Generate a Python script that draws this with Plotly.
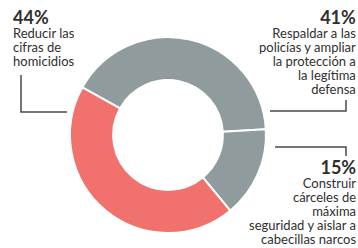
import plotly.graph_objects as go

# Data
categories = ["Respaldar a las policías y ampliar la protección a la legítima defensa",
              "Construir cárceles de máxima seguridad y aislar a cabecillas narcos",
              "Reducir las cifras de homicidios"]
values = [41, 15, 44]
colors = ["#8f9b9d", "#8f9b9d", "#f1716c"]

pct_labels = ["41%", "15%", "44%"]
left_lines = ["Reducir las", "cifras de", "homicidios"]
right_top_lines = ["Respaldar a las", "policías y ampliar", "la protección a", "la legítima", "defensa"]
right_bot_lines = ["Construir", "cárceles de", "máxima", "seguridad y aislar a", "cabecillas narcos"]

W, H = 358, 248

def px(x):
    return x / W

def py(y):
    return 1 - y / H

cx, cy, r = 168, 135, 98

fig = go.Figure(go.Pie(
    labels=categories, values=values, sort=False, direction="clockwise",
    rotation=-61, hole=0.56, textinfo="none", hoverinfo="label+percent",
    marker=dict(colors=colors, line=dict(color="white", width=2)),
    domain=dict(x=[px(cx - r), px(cx + r)], y=[py(cy + r), py(cy - r)]),
    showlegend=False,
))

BASE = 14 / 1.3  # base font size -> 14px line spacing


def block(pct, lines):
    head = f"<span style='font-size:18px'><b>{pct}</b></span>"
    body = [f"<span style='font-size:13px'>{t}</span>" for t in lines]
    return "<br>".join([head] + body)


font = dict(family="Lato", size=BASE, color="#2f2f2f")
ann = [
    dict(x=px(13), y=py(6), text=block(pct_labels[2], left_lines),
         xanchor="left", yanchor="top", align="left"),
    dict(x=px(356), y=py(6), text=block(pct_labels[0], right_top_lines),
         xanchor="right", yanchor="top", align="right"),
    dict(x=px(356), y=py(156), text=block(pct_labels[1], right_bot_lines),
         xanchor="right", yanchor="top", align="right"),
]
for a in ann:
    a.update(xref="paper", yref="paper", showarrow=False, borderpad=0,
             borderwidth=0, font=font)

line_style = dict(color="#4a4a4a", width=1.5)
shapes = [
    dict(type="path", path=f"M {px(21)},{py(75)} L {px(21)},{py(112)} L {px(67)},{py(112)}"),
    dict(type="path", path=f"M {px(270)},{py(111)} L {px(346)},{py(111)} L {px(346)},{py(100)}"),
    dict(type="path", path=f"M {px(275)},{py(147)} L {px(346)},{py(147)} L {px(346)},{py(156)}"),
]
for s in shapes:
    s.update(xref="paper", yref="paper", line=line_style)

fig.update_layout(
    width=W, height=H, margin=dict(l=0, r=0, t=0, b=0),
    paper_bgcolor="white", plot_bgcolor="white",
    annotations=ann, shapes=shapes,
)

fig.write_html(
    "out.html",
    config={"displayModeBar": False},
    post_script="document.body.style.margin='0';document.body.style.overflow='hidden';",
)
